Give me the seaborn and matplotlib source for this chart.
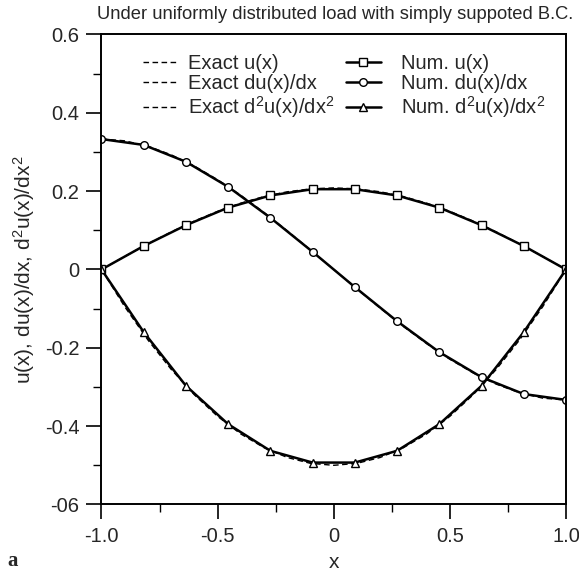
import numpy as np
import pandas as pd
import matplotlib
matplotlib.use("Agg")
import matplotlib.pyplot as plt
import seaborn as sns
from matplotlib.ticker import FixedLocator, MultipleLocator

# ---- data ----
x_num = [-1.0, -0.8182, -0.6364, -0.4545, -0.2727, -0.0909,
         0.0909, 0.2727, 0.4545, 0.6364, 0.8182, 1.0]
u_num = [0.0, 0.060, 0.113, 0.158, 0.189, 0.205,
         0.205, 0.189, 0.158, 0.113, 0.060, 0.0]
du_num = [0.333, 0.318, 0.275, 0.211, 0.132, 0.045,
          -0.045, -0.132, -0.211, -0.275, -0.318, -0.333]
d2u_num = [0.0, -0.160, -0.297, -0.395, -0.463, -0.493,
           -0.493, -0.463, -0.395, -0.297, -0.160, 0.0]

x_ex = [-1.0, -0.9, -0.8, -0.7, -0.6, -0.5, -0.4, -0.3, -0.2, -0.1, 0.0,
        0.1, 0.2, 0.3, 0.4, 0.5, 0.6, 0.7, 0.8, 0.9, 1.0]
u_ex = [0.0, 0.0332, 0.0654, 0.0958, 0.1237, 0.1484, 0.1694, 0.1862, 0.1984, 0.2058, 0.2083,
        0.2058, 0.1984, 0.1862, 0.1694, 0.1484, 0.1237, 0.0958, 0.0654, 0.0332, 0.0]
du_ex = [0.3333, 0.3285, 0.3147, 0.2928, 0.2640, 0.2292, 0.1893, 0.1455, 0.0987, 0.0498, 0.0,
         -0.0498, -0.0987, -0.1455, -0.1893, -0.2292, -0.2640, -0.2928, -0.3147, -0.3285, -0.3333]
d2u_ex = [0.0, -0.095, -0.18, -0.255, -0.32, -0.375, -0.42, -0.455, -0.48, -0.495, -0.5,
          -0.495, -0.48, -0.455, -0.42, -0.375, -0.32, -0.255, -0.18, -0.095, 0.0]

x_ticks = [-1.0, -0.5, 0.0, 0.5, 1.0]
x_ticklabels = ["-1.0", "-0.5", "0", "0.5", "1.0"]
y_ticks = [-0.6, -0.4, -0.2, 0.0, 0.2, 0.4, 0.6]
y_ticklabels = ["-06", "-0.4", "-0.2", "0", "0.2", "0.4", "0.6"]

title_text = "Under uniformly distributed load with simply suppoted B.C."
ylabel_text = r"u(x), du(x)/dx, d$^2$u(x)/dx$^2$"
ex_labels = ["Exact u(x)", "Exact du(x)/dx", r"Exact d$^2$u(x)/dx$^2$"]
num_labels = ["Num. u(x)", "Num. du(x)/dx", r"Num. d$^2$u(x)/dx$^2$"]

# ---- style ----
sns.set_style("ticks")
plt.rcParams["font.family"] = ["Liberation Sans", "DejaVu Sans"]
plt.rcParams["mathtext.fontset"] = "custom"
plt.rcParams["mathtext.rm"] = "Liberation Sans"
plt.rcParams["mathtext.it"] = "Liberation Sans"

fig = plt.figure(figsize=(5.79, 5.71), dpi=100)
ax = fig.add_axes([0.1753, 0.1165, 0.8022, 0.8231])

dash = (0, (4, 2.5))
for yv, lab in zip([u_ex, du_ex, d2u_ex], ex_labels):
    df = pd.DataFrame({"x": x_ex, "y": yv})
    sns.lineplot(data=df, x="x", y="y", ax=ax, color="black", lw=1.0,
                 linestyle=dash, label=lab, sort=False)

for yv, lab, mk in zip([u_num, du_num, d2u_num], num_labels, ["s", "o", "^"]):
    df = pd.DataFrame({"x": x_num, "y": yv})
    sns.lineplot(data=df, x="x", y="y", ax=ax, color="black", lw=1.8,
                 marker=mk, markersize=5.5, markerfacecolor="white",
                 markeredgecolor="black", markeredgewidth=1.0,
                 label=lab, sort=False)

ax.set_xlim(-1.0, 1.0)
ax.set_ylim(-0.6, 0.6)
ax.xaxis.set_major_locator(FixedLocator(x_ticks))
ax.set_xticklabels(x_ticklabels)
ax.yaxis.set_major_locator(FixedLocator(y_ticks))
ax.set_yticklabels(y_ticklabels)
ax.xaxis.set_minor_locator(MultipleLocator(0.25))
ax.yaxis.set_minor_locator(MultipleLocator(0.1))
ax.tick_params(which="major", direction="out", length=11, width=1.2,
               labelsize=14.5, pad=5, color="black")
ax.tick_params(which="minor", direction="out", length=6, width=1.0, color="black")
ax.tick_params(top=False, right=False, which="both")
for s in ax.spines.values():
    s.set_visible(True)
    s.set_linewidth(1.4)
    s.set_color("black")

ax.set_xlabel("x", fontsize=15, labelpad=5)
ax.set_ylabel(ylabel_text, fontsize=15)
ax.yaxis.set_label_coords(-0.138, 0.5)
ax.text(1.015, 1.025, title_text, transform=ax.transAxes, ha="right", va="bottom",
        fontsize=13.2)
fig.text(0.012, 0.008, "a", fontsize=15, fontweight="bold", family="Liberation Serif",
         ha="left", va="baseline")

handles, labels = ax.get_legend_handles_labels()
common = dict(frameon=False, loc="upper left", borderaxespad=0, borderpad=0,
              fontsize=14.5, handlelength=1.7, labelspacing=0.05)
leg1 = ax.legend(handles[:3], labels[:3], bbox_to_anchor=(0.09, 0.958),
                 handletextpad=0.5, **common)
ax.add_artist(leg1)
leg2 = ax.legend(handles[3:], labels[3:], bbox_to_anchor=(0.527, 0.958),
                 handletextpad=1.0, **common)

fig.savefig("out.png", dpi=100)
